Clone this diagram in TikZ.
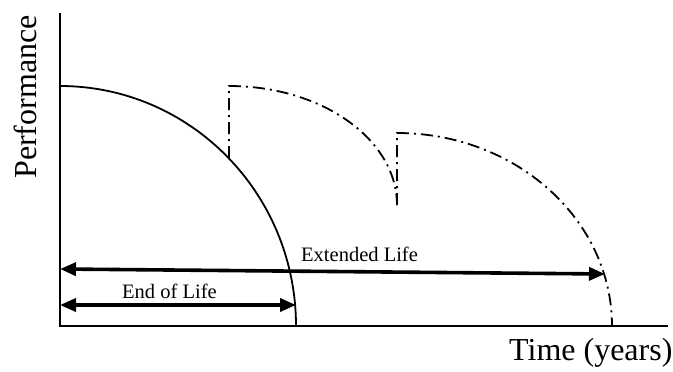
\documentclass[tikz,border=0pt]{standalone}
\usepackage{fontspec}
\setmainfont{Liberation Serif}
\usetikzlibrary{arrows.meta}

\begin{document}
\begin{tikzpicture}[
      x=1pt, y=-1pt,
      axis/.style={line width=1.8pt},
      life/.style={line width=1.8pt},
      renew/.style={line width=1.8pt, dash pattern=on 12pt off 5pt on 2pt off 5pt},
      span/.style={{Triangle[length=16pt,width=13pt]}-{Triangle[length=16pt,width=13pt]}, line width=3.6pt},
      lbl/.style={font=\fontsize{20.5}{22}\selectfont, inner sep=0pt, anchor=base west},
      axlbl/.style={font=\fontsize{32}{34}\selectfont, inner sep=0pt},
    ]
    \useasboundingbox (0,0) rectangle (673,372);

    % axes
    \coordinate (o)    at (60,326);
    \coordinate (ytop) at (60,13);
    \coordinate (xend) at (668,326);
    \draw[axis] (ytop) -- (o) -- (xend);

    % original life
    \coordinate (p0) at (60,86);
    \draw[life] (p0) arc[start angle=-90, end angle=0, x radius=236, y radius=240];

    % maintenance actions
    \coordinate (m1) at (229,158);
    \coordinate (m2) at (397,205);
    \draw[renew] (m1) -- (229,86) arc[start angle=-90, end angle=0, x radius=168, y radius=119];
    \draw[renew] (m2) -- (397,133) arc[start angle=-90, end angle=0, x radius=215, y radius=193];

    % life spans
    \coordinate (extL) at (60,269);
    \coordinate (extR) at (605,274);
    \coordinate (eolL) at (60,305);
    \coordinate (eolR) at (296,305);
    \draw[span] (extL) -- (extR);
    \draw[span] (eolL) -- (eolR);

    \node[lbl] (ext) at (301,261) {Extended Life};
    \node[lbl] (eol) at (122,298) {End of Life};
    \node[axlbl, rotate=90, anchor=base] (perf) at (37,97) {Performance};
    \node[axlbl, anchor=base west] (time) at (509,360) {Time (years)};
  \end{tikzpicture}
\end{document}
